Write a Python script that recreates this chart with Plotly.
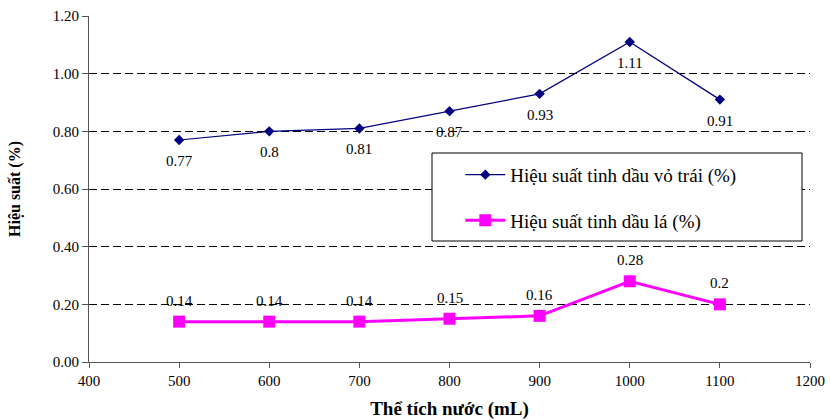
import plotly.graph_objects as go

# Water volume (mL) and essential-oil yield (%)
volumes = [500, 600, 700, 800, 900, 1000, 1100]
yield_peel = [0.77, 0.80, 0.81, 0.87, 0.93, 1.11, 0.91]
yield_leaf = [0.14, 0.14, 0.14, 0.15, 0.16, 0.28, 0.20]

name_peel = "Hiệu suất tinh dầu vỏ trái (%)"
name_leaf = "Hiệu suất tinh dầu lá (%)"

FONT = "Liberation Serif"

def fmt(v):
    return f"{v:g}"

fig = go.Figure()
fig.add_trace(go.Scatter(
    x=volumes, y=yield_peel, name=name_peel, legendgroup="a",
    mode="lines+markers",
    line=dict(color="#000080", width=1.2),
    marker=dict(symbol="diamond", size=8, color="#000080"),
))
fig.add_trace(go.Scatter(
    x=volumes, y=yield_leaf, name=name_leaf, legendgroup="b",
    mode="lines+markers",
    line=dict(color="#FF00FF", width=3),
    marker=dict(symbol="square", size=12, color="#FF00FF"),
))

# value labels: below the peel series, above the leaf series
annotations = []
for ys, shift in ((yield_peel, -21), (yield_leaf, 21)):
    for x, y in zip(volumes, ys):
        annotations.append(dict(
            x=x, y=y, xref="x", yref="y", text=fmt(y), showarrow=False,
            yshift=shift, font=dict(family=FONT, size=15, color="black"),
        ))

fig.update_layout(
    width=830, height=420,
    margin=dict(l=89, r=20, t=16, b=58, autoexpand=False),
    paper_bgcolor="white", plot_bgcolor="white",
    font=dict(family=FONT, size=15, color="black"),
    showlegend=True,
    legend=dict(
        x=0.515, y=0.596, xanchor="left", yanchor="top",
        bgcolor="rgba(0,0,0,0)", borderwidth=0,
        font=dict(family=FONT, size=19, color="black"),
        tracegroupgap=18, itemwidth=40,
    ),
    annotations=annotations,
    shapes=[dict(
        type="rect", xref="paper", yref="paper",
        x0=(432 - 89) / 721, x1=(802 - 89) / 721,
        y0=(362 - 241) / 346, y1=(362 - 153) / 346,
        line=dict(color="black", width=1), fillcolor="white", layer="above",
    )],
)

fig.update_xaxes(
    range=[400, 1200], dtick=100, tick0=400, automargin=False,
    showgrid=False, zeroline=False,
    showline=True, linecolor="#555555", linewidth=1,
    ticks="outside", ticklen=5, tickcolor="#555555",
    tickfont=dict(family=FONT, size=15),
    title=dict(text="<b>Thể tích nước (mL)</b>", font=dict(family=FONT, size=19), standoff=13),
)
fig.update_yaxes(
    range=[0, 1.2], dtick=0.2, tick0=0, tickformat=".2f", automargin=False,
    showgrid=True, gridcolor="black", gridwidth=1, griddash="8px,4px",
    zeroline=False,
    showline=True, linecolor="#555555", linewidth=1,
    ticks="outside", ticklen=6, tickcolor="#555555",
    tickfont=dict(family=FONT, size=15),
    title=dict(text="<b>Hiệu suất (%)</b>", font=dict(family=FONT, size=16), standoff=28),
)

fig.write_html("out.html")
